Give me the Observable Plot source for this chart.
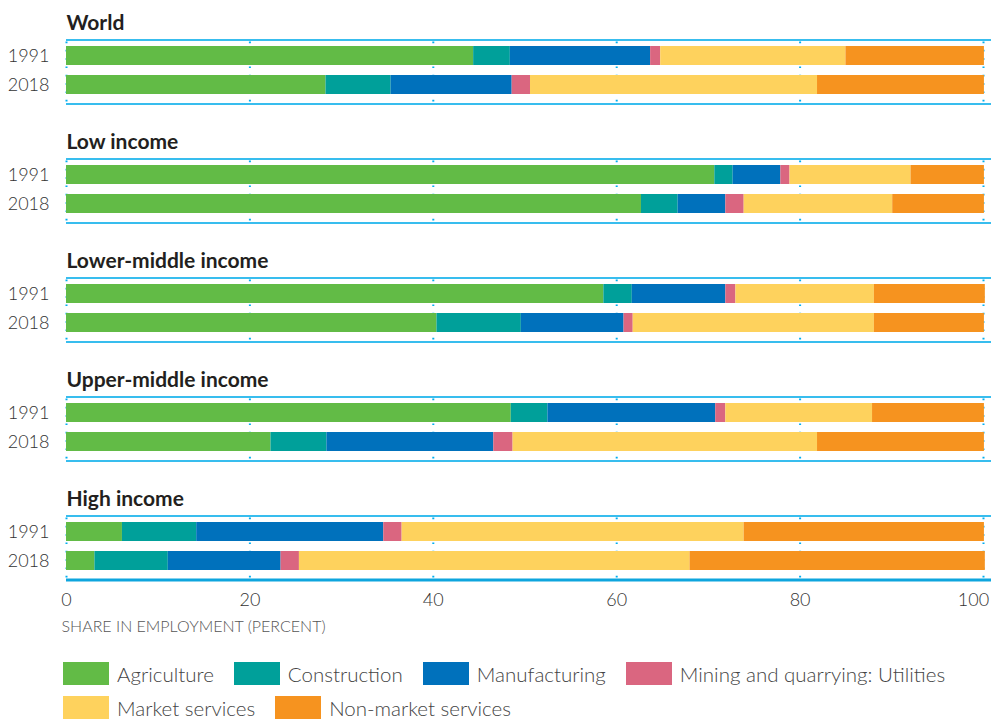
<!DOCTYPE html>
<html>
<head>
<meta charset="utf-8">
<script src="https://cdn.jsdelivr.net/npm/d3@7"></script>
<script src="https://cdn.jsdelivr.net/npm/@observablehq/plot@0.6"></script>
<style>
  html, body { margin: 0; padding: 0; background: #fff; }
  #chart svg { display: block; }
  #legend {
    display: flex; flex-wrap: wrap; width: 930px; margin-left: 63px;
    padding-top: 22px; column-gap: 20px; row-gap: 11px;
    font-family: Lato, sans-serif; font-size: 20.5px; font-weight: 300; color: #444;
  }
  .item { display: flex; align-items: center; height: 23px; }
  .sw { width: 46px; height: 23px; margin-right: 8px; }
</style>
</head>
<body>
<div id="chart"></div>
<div id="legend"></div>
<script>
const groups = ["World", "Low income", "Lower-middle income", "Upper-middle income", "High income"];
const years = ["1991", "2018"];
const sectors = ["Agriculture", "Construction", "Manufacturing", "Mining and quarrying: Utilities", "Market services", "Non-market services"];
const colors = ["#62bb46", "#00a09a", "#0071bc", "#da6680", "#fed25d", "#f6931f"];
const xTicks = [0, 20, 40, 60, 80, 100];
const axisTitle = "SHARE IN EMPLOYMENT (PERCENT)";

// order: World 1991, World 2018, Low 1991, Low 2018, LM 1991, LM 2018, UM 1991, UM 2018, High 1991, High 2018
const agriculture   = [44.4, 28.3, 70.7, 62.7, 58.6, 40.4, 48.5, 22.3, 6.1, 3.1];
const construction  = [4.0, 7.1, 2.0, 4.0, 3.1, 9.2, 4.0, 6.1, 8.1, 8.0];
const manufacturing = [15.3, 13.2, 5.2, 5.2, 10.2, 11.2, 18.3, 18.2, 20.4, 12.3];
const mining        = [1.1, 2.0, 1.0, 2.0, 1.1, 1.0, 1.1, 2.1, 2.0, 2.0];
const marketServ    = [20.2, 31.3, 13.2, 16.2, 15.1, 26.3, 16.0, 33.2, 37.3, 42.6];
const nonMarketServ = [15.1, 18.2, 8.0, 10.0, 12.1, 12.0, 12.2, 18.2, 26.2, 32.2];
const series = [agriculture, construction, manufacturing, mining, marketServ, nonMarketServ];

const rows = [];
groups.forEach((g, gi) => years.forEach((yr, yi) => sectors.forEach((s, si) => {
  rows.push({group: g, year: yr, sector: s, value: series[si][gi * 2 + yi]});
})));

const last = groups[groups.length - 1];

const chart = Plot.plot({
  width: 993, height: 640,
  marginLeft: 66, marginRight: 2, marginTop: 39, marginBottom: 60,
  style: {fontFamily: "Lato, sans-serif", fontSize: "18px", color: "#333", background: "white"},
  x: {domain: [0, 100], range: [66, 983]},
  y: {domain: years, paddingInner: 1 / 3, paddingOuter: 0.25, align: 0.4, label: null},
  fy: {domain: groups, paddingInner: 0.4538, paddingOuter: 0, axis: null, label: null},
  color: {domain: sectors, range: colors},
  marks: [
    Plot.ruleX(xTicks, {x: d => d, stroke: "#00aeef", strokeWidth: 2, strokeDasharray: "1.6 6.73", strokeDashoffset: 5.8}),
    Plot.barX(rows, Plot.stackX({x: "value", y: "year", fy: "group", fill: "sector"})),
    Plot.ruleY(["1991"], {y: d => d, dy: -16, stroke: "#38bdee", strokeWidth: 2}),
    Plot.ruleY(["2018"], {y: d => d, dy: 19, stroke: "#38bdee", strokeWidth: 2}),
    Plot.ruleY([{g: last, y: "2018"}], {fy: "g", y: "y", dy: 19, stroke: "#0ea5de", strokeWidth: 3}),
    Plot.text(groups, {fy: d => d, text: d => d, frameAnchor: "top-left", lineAnchor: "top", dy: -24, fontWeight: "bold", fontSize: 21, fill: "#231f20"}),
    Plot.text([{g: last, t: axisTitle}], {fy: "g", text: "t", frameAnchor: "bottom-left", lineAnchor: "middle", dy: 46, dx: -5, fontSize: 16, fill: "#555", fontWeight: 300}),
    Plot.axisY({tickSize: 0, tickPadding: 17, fontSize: 18, fontWeight: 300, label: null}),
    Plot.axisX(xTicks.slice(0, -1), {tickSize: 0, tickPadding: 13, fontSize: 18, fontWeight: 300, label: null}),
    Plot.axisX(xTicks.slice(-1), {tickSize: 0, tickPadding: 13, fontSize: 18, fontWeight: 300, dx: -10, label: null})
  ]
});
document.getElementById("chart").appendChild(chart);

const legend = document.getElementById("legend");
sectors.forEach((s, i) => {
  const item = document.createElement("div");
  item.className = "item";
  const sw = document.createElement("div");
  sw.className = "sw";
  sw.style.background = colors[i];
  const lab = document.createElement("span");
  lab.textContent = s;
  item.appendChild(sw);
  item.appendChild(lab);
  legend.appendChild(item);
});
</script>
</body>
</html>
